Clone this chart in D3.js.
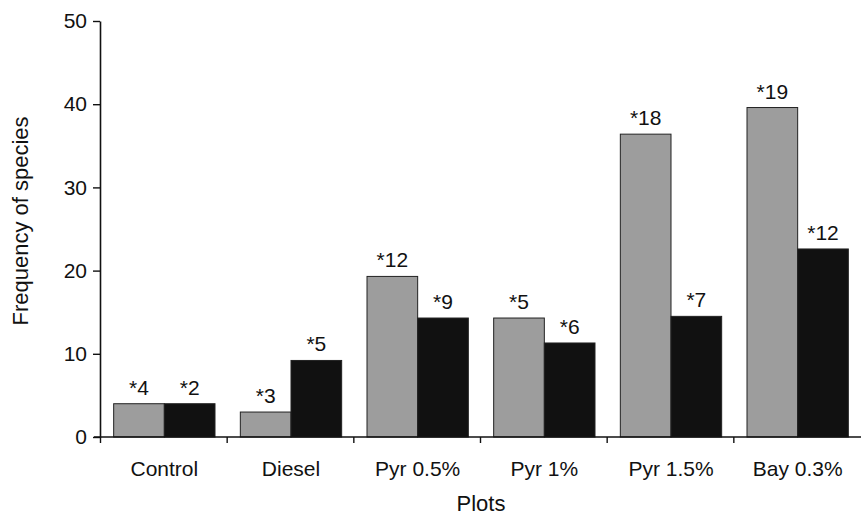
<!DOCTYPE html>
<html>
<head>
<meta charset="utf-8">
<script src="https://cdn.jsdelivr.net/npm/d3@7"></script>
<style>
  body { margin: 0; background: #fff; }
  text { font-family: "Liberation Sans", Arial, Helvetica, sans-serif; fill: #111; }
</style>
</head>
<body>
<script>
var w = 861;
var h = 518;

// data
var plots = ["Control", "Diesel", "Pyr 0.5%", "Pyr 1%", "Pyr 1.5%", "Bay 0.3%"];
var grayValues = [4, 3, 19.3, 14.3, 36.4, 39.6];
var blackValues = [4, 9.2, 14.3, 11.3, 14.5, 22.6];
var grayLabels = ["*4", "*3", "*12", "*5", "*18", "*19"];
var blackLabels = ["*2", "*5", "*9", "*6", "*7", "*12"];
var yTicks = [0, 10, 20, 30, 40, 50];

var svg = d3.select("body")
    .append("svg")
    .attr("width", w)
    .attr("height", h);

var x = d3.scaleBand()
    .domain(plots)
    .range([101, 861])
    .paddingInner(0.2)
    .paddingOuter(0.1);

var sub = d3.scaleBand()
    .domain(["gray", "black"])
    .range([0, x.bandwidth()]);

var y = d3.scaleLinear()
    .domain([0, 50])
    .range([437, 21]);

var rows = plots.map(function (p, i) {
    return [
        {plot: p, key: "gray", value: grayValues[i], label: grayLabels[i]},
        {plot: p, key: "black", value: blackValues[i], label: blackLabels[i]}
    ];
});

//----bars-----
var groups = svg.selectAll("g.group")
    .data(rows)
    .enter()
    .append("g")
    .attr("class", "group")
    .attr("transform", function (d) { return "translate(" + x(d[0].plot) + ",0)"; });

groups.selectAll("rect")
    .data(function (d) { return d; })
    .enter()
    .append("rect")
    .attr("x", function (d) { return sub(d.key); })
    .attr("y", function (d) { return y(d.value); })
    .attr("width", sub.bandwidth())
    .attr("height", function (d) { return y(0) - y(d.value); })
    .attr("fill", function (d) { return d.key == "gray" ? "#9d9d9d" : "#111"; })
    .attr("stroke", "#222")
    .attr("stroke-width", 1);

groups.selectAll("text")
    .data(function (d) { return d; })
    .enter()
    .append("text")
    .text(function (d) { return d.label; })
    .attr("x", function (d) { return sub(d.key) + sub.bandwidth() / 2; })
    .attr("y", function (d) { return y(d.value) - 9; })
    .attr("text-anchor", "middle")
    .attr("font-size", 21);

//----y axis-----
var yAxis = svg.append("g")
    .attr("transform", "translate(100,0)")
    .call(d3.axisLeft(y).tickValues(yTicks).tickSize(7).tickPadding(6).tickSizeOuter(0));

yAxis.select(".domain").attr("stroke", "#111").attr("stroke-width", 1.6);
yAxis.selectAll(".tick line").attr("stroke", "#111").attr("stroke-width", 1.4);
yAxis.selectAll(".tick text")
    .attr("font-size", 21)
    .attr("font-family", "Liberation Sans, Arial, sans-serif")
    .attr("fill", "#111");

//----x axis-----
svg.append("line")
    .attr("x1", 94)
    .attr("x2", 861)
    .attr("y1", y(0))
    .attr("y2", y(0))
    .attr("stroke", "#111")
    .attr("stroke-width", 1.6);

svg.selectAll("line.xtick")
    .data(plots)
    .enter()
    .append("line")
    .attr("class", "xtick")
    .attr("x1", function (d) { return x(d) - x.step() * x.paddingInner() / 2 - 0.5; })
    .attr("x2", function (d) { return x(d) - x.step() * x.paddingInner() / 2 - 0.5; })
    .attr("y1", y(0))
    .attr("y2", y(0) + 6)
    .attr("stroke", "#111")
    .attr("stroke-width", 1.4);

svg.selectAll("text.cat")
    .data(plots)
    .enter()
    .append("text")
    .attr("class", "cat")
    .text(function (d) { return d; })
    .attr("x", function (d) { return x(d) + x.bandwidth() / 2; })
    .attr("y", 476)
    .attr("text-anchor", "middle")
    .attr("font-size", 21);

//----titles-----
svg.append("text")
    .text("Plots")
    .attr("x", 481)
    .attr("y", 511)
    .attr("text-anchor", "middle")
    .attr("font-size", 22);

svg.append("text")
    .text("Frequency of species")
    .attr("transform", "translate(28,221) rotate(-90)")
    .attr("text-anchor", "middle")
    .attr("font-size", 22);
</script>
</body>
</html>
